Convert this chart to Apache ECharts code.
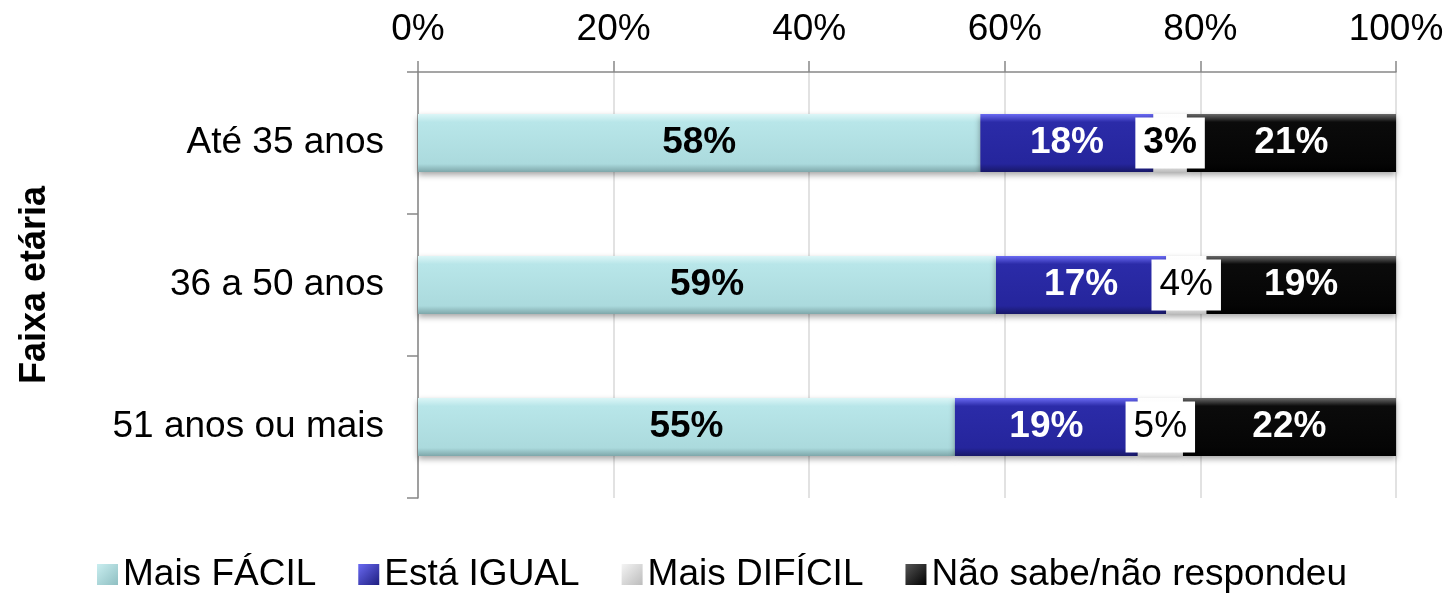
<!DOCTYPE html>
<html>
<head>
<meta charset="utf-8">
<script src="https://cdn.jsdelivr.net/npm/echarts@6/dist/echarts.min.js"></script>
<style>
  html, body { margin: 0; padding: 0; background: #fff; }
  #chart { width: 1449px; height: 597px; }
</style>
</head>
<body>
<div id="chart"></div>
<script>
// faixas etárias (de cima para baixo)
const categories = ['Até 35 anos', '36 a 50 anos', '51 anos ou mais'];

// percentuais
const maisFacil   = [57.5, 59.1, 54.9];
const estaIgual   = [17.7, 17.4, 18.7];
const maisDificil = [3.4, 4.1, 4.6];
const naoSabe     = [21.4, 19.4, 21.8];

const xTicks = [0, 20, 40, 60, 80, 100];

const font = "'Liberation Sans', Arial, sans-serif";

function bevel(top, mid, low, bottom) {
  return new echarts.graphic.LinearGradient(0, 0, 0, 1, [
    { offset: 0, color: top },
    { offset: 0.14, color: mid },
    { offset: 0.86, color: low },
    { offset: 1, color: bottom }
  ]);
}

function iconGrad(light, dark) {
  return new echarts.graphic.LinearGradient(0, 0, 1, 1, [
    { offset: 0, color: light },
    { offset: 1, color: dark }
  ]);
}

const pct = p => Math.round(p.value) + '%';

const shadow = {
  shadowColor: 'rgba(0,0,0,0.35)',
  shadowBlur: 6,
  shadowOffsetY: 3
};

let myChart = echarts.init(document.getElementById('chart'));

let option = {
  animation: false,
  textStyle: { fontFamily: font },
  grid: { left: 418, right: 53, top: 72, bottom: 99, outerBoundsMode: 'none', containLabel: false },
  legend: {
    left: 97,
    top: 556,
    padding: 0,
    itemWidth: 21,
    itemHeight: 21,
    itemGap: 42,
    icon: 'rect',
    textStyle: { fontSize: 37, color: '#000', fontFamily: font },
    data: [
      { name: 'Mais FÁCIL', itemStyle: { color: iconGrad('#c9eef0', '#8fbfc2') } },
      { name: 'Está IGUAL', itemStyle: { color: iconGrad('#6a6af2', '#1e1e80') } },
      { name: 'Mais DIFÍCIL', itemStyle: { color: iconGrad('#f4f4f4', '#bcbcbc') } },
      { name: 'Não sabe/não respondeu', itemStyle: { color: iconGrad('#555555', '#000000') } }
    ]
  },
  xAxis: {
    type: 'value',
    position: 'top',
    min: xTicks[0],
    max: xTicks[xTicks.length - 1],
    interval: 20,
    axisLine: { show: true, lineStyle: { color: '#888', width: 1.5 } },
    axisTick: { show: true, length: 11, lineStyle: { color: '#888', width: 1.5 } },
    splitLine: { show: true, lineStyle: { color: '#d9d9d9', width: 1.5 } },
    axisLabel: {
      margin: 24,
      fontSize: 37,
      color: '#000',
      fontFamily: font,
      formatter: '{value}%'
    }
  },
  yAxis: {
    type: 'category',
    inverse: true,
    data: categories,
    name: 'Faixa etária',
    nameLocation: 'middle',
    nameRotate: 90,
    nameGap: 365,
    nameTextStyle: { fontSize: 36, fontWeight: 'bold', color: '#000', fontFamily: font },
    axisLine: { show: true, lineStyle: { color: '#888', width: 1.5 } },
    axisTick: { show: true, length: 11, lineStyle: { color: '#888', width: 1.5 } },
    axisLabel: { margin: 34, fontSize: 37, color: '#000', fontFamily: font }
  },
  series: [
    {
      name: 'Mais FÁCIL',
      type: 'bar',
      stack: 'total',
      barWidth: 58,
      data: maisFacil,
      itemStyle: Object.assign({ color: bevel('#dcf6f7', '#b8e6e9', '#abdadd', '#7ea7aa') }, shadow),
      label: { show: true, position: 'inside', formatter: pct, fontSize: 37, fontWeight: 'bold', color: '#000', fontFamily: font }
    },
    {
      name: 'Está IGUAL',
      type: 'bar',
      stack: 'total',
      data: estaIgual,
      itemStyle: Object.assign({ color: bevel('#6a6af2', '#2b2ba8', '#25259c', '#181868') }, shadow),
      label: { show: true, position: 'inside', formatter: pct, fontSize: 37, fontWeight: 'bold', color: '#fff', fontFamily: font }
    },
    {
      name: 'Mais DIFÍCIL',
      type: 'bar',
      stack: 'total',
      data: maisDificil.map((v, i) => ({
        value: v,
        label: { fontWeight: i === 0 ? 'bold' : 'normal' }
      })),
      itemStyle: Object.assign({ color: bevel('#ffffff', '#fafafa', '#f2f2f2', '#bdbdbd') }, shadow),
      label: {
        show: true,
        position: 'inside',
        formatter: pct,
        fontSize: 37,
        color: '#000',
        fontFamily: font,
        backgroundColor: '#fff',
        padding: [7, 8, 7, 8]
      },
      z: 3
    },
    {
      name: 'Não sabe/não respondeu',
      type: 'bar',
      stack: 'total',
      data: naoSabe,
      itemStyle: Object.assign({ color: bevel('#6a6a6a', '#0b0b0b', '#050505', '#000000') }, shadow),
      label: { show: true, position: 'inside', formatter: pct, fontSize: 37, fontWeight: 'bold', color: '#fff', fontFamily: font }
    }
  ]
};

myChart.setOption(option);
</script>
</body>
</html>
